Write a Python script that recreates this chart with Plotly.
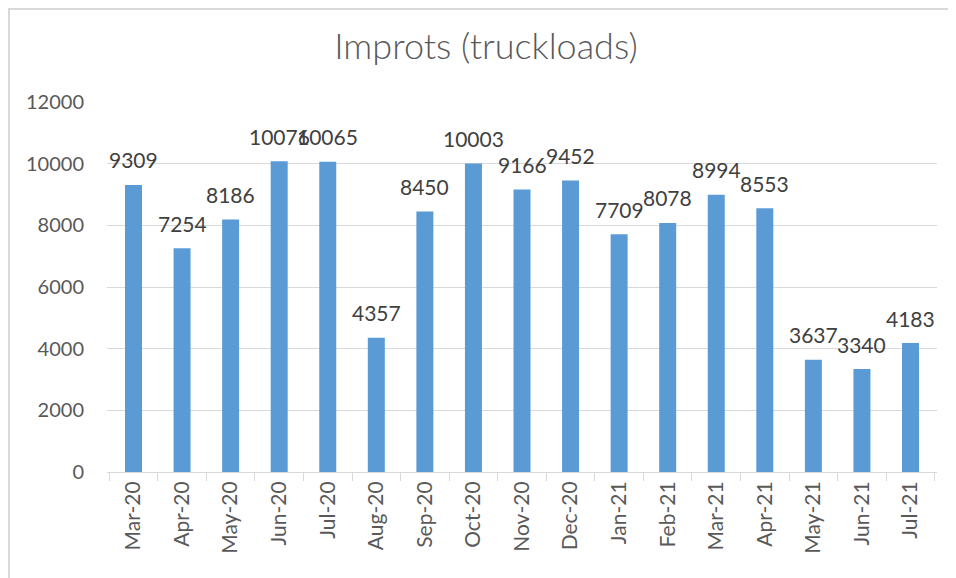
import plotly.graph_objects as go

months = ["Mar-20", "Apr-20", "May-20", "Jun-20", "Jul-20", "Aug-20", "Sep-20", "Oct-20",
          "Nov-20", "Dec-20", "Jan-21", "Feb-21", "Mar-21", "Apr-21", "May-21", "Jun-21", "Jul-21"]
truckloads = [9309, 7254, 8186, 10076, 10065, 4357, 8450, 10003,
              9166, 9452, 7709, 8078, 8994, 8553, 3637, 3340, 4183]
y_ticks = [0, 2000, 4000, 6000, 8000, 10000, 12000]
y_tick_labels = ["0", "2000", "4000", "6000", "8000", "10000", "12000"]

W, H = 956, 578
L, R, T, B = 99, 27, 94, 114
pw, ph = W - L - R, H - T - B
FONT = "Lato, Open Sans, sans-serif"

fig = go.Figure(go.Bar(
    x=months, y=truckloads,
    marker=dict(color="#5B9BD5", line=dict(width=0)),
    hoverinfo="x+y",
))

annotations = [
    dict(x=m, y=v, xref="x", yref="y", text=str(v), showarrow=False,
         yanchor="middle", xanchor="center", yshift=25,
         font=dict(family=FONT, size=21, color="#404040"))
    for m, v in zip(months, truckloads)
]

fig.update_layout(
    width=W, height=H,
    margin=dict(l=L, r=R, t=T, b=B),
    paper_bgcolor="white", plot_bgcolor="white",
    bargap=0.65,
    showlegend=False,
    annotations=annotations,
    title=dict(text="Improts (truckloads)", x=0.5, xanchor="center",
               y=1 - (46 - 8) / H, yanchor="middle",
               font=dict(family=FONT, size=36, color="#595959", weight=300)),
    font=dict(family=FONT, color="#595959"),
    xaxis=dict(type="category", tickangle=-90, tickfont=dict(size=21, color="#595959"),
               showline=True, linecolor="#D9D9D9", linewidth=1,
               ticks="outside", tickson="boundaries", ticklen=8, tickcolor="#D9D9D9",
               showgrid=False),
    yaxis=dict(range=[0, 12000], tickvals=y_ticks, ticktext=y_tick_labels,
               tickfont=dict(size=20, color="#595959"),
               showgrid=True, gridcolor="#D9D9D9", gridwidth=1, zeroline=False,
               showline=False, ticks="", ticklabelstandoff=22),
    shapes=[
        dict(type="line", xref="paper", yref="paper",
             x0=(1 - L) / pw, x1=(1 - L) / pw, y0=-(B) / ph, y1=1 + T / ph,
             line=dict(color="#D9D9D9", width=2)),
        dict(type="line", xref="paper", yref="paper",
             x0=-L / pw, x1=1 + R / pw, y0=1 + (T - 1) / ph, y1=1 + (T - 1) / ph,
             line=dict(color="#D9D9D9", width=2)),
    ],
)

fig.write_html("out.html")
